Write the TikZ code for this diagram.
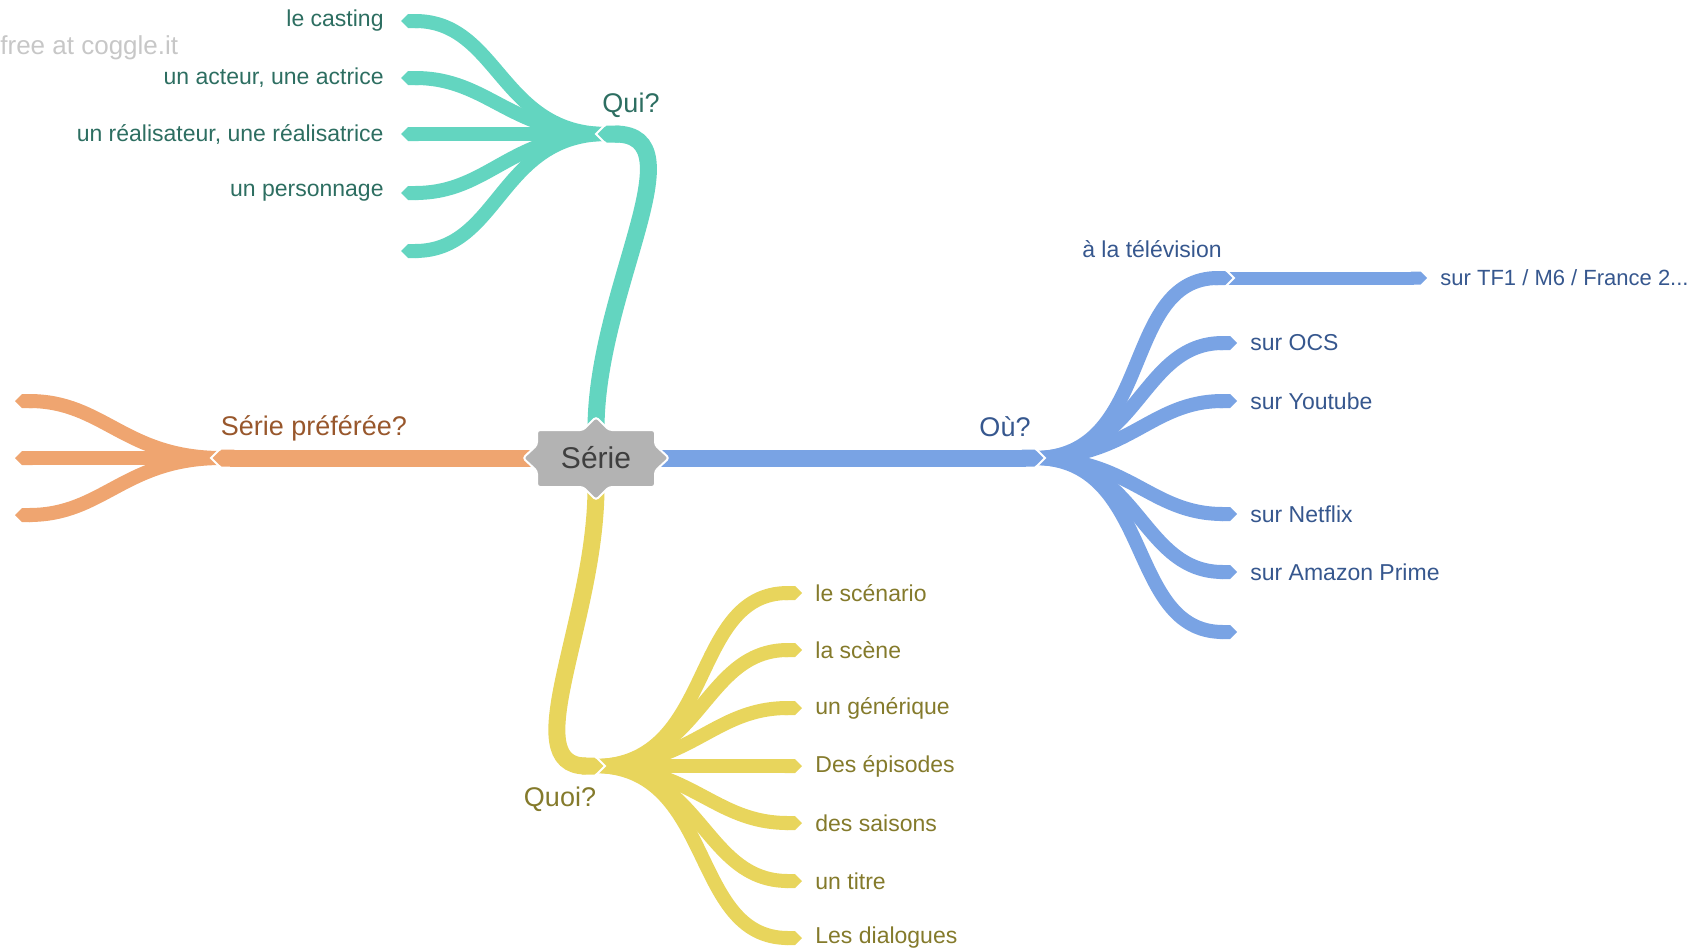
\documentclass[tikz,border=0pt]{standalone}
\usepackage{fontspec}
\setmainfont{Liberation Sans}
\usetikzlibrary{arrows.meta}
\definecolor{quiline}{HTML}{63D5C0}
\definecolor{quitext}{HTML}{2D6E61}
\definecolor{ouline}{HTML}{79A3E4}
\definecolor{outext}{HTML}{36578E}
\definecolor{prefline}{HTML}{EFA570}
\definecolor{preftext}{HTML}{98572C}
\definecolor{quoiline}{HTML}{E8D55C}
\definecolor{quoitext}{HTML}{847A2B}
\definecolor{boxgray}{HTML}{B3B3B3}
\definecolor{boxtext}{HTML}{3F3F3F}
\pgfdeclarelayer{back}
\pgfsetlayers{back,main}
\tikzset{trunk/.style={line width=8.5pt,-{Triangle Cap[]}},
	branch/.style={line width=7pt,-{Triangle Cap[]},shorten <=-4.5pt,looseness=1.1},
	leaf/.style={inner xsep=6.5pt,inner ysep=0pt,font=\fontsize{11.5}{13}\selectfont},
	head/.style={inner sep=0pt,font=\fontsize{13.5}{16}\selectfont},
	notch/.pic={\draw[white,line width=1pt] (-10,-12) -- (2,0) -- (-10,12);}}

\begin{document}
\begin{tikzpicture}[x=0.5pt,y=-0.5pt]
	\useasboundingbox (0,0) rectangle (1702,948);

	\filldraw[fill=boxgray,draw=white,line width=1pt,rounded corners=1.5pt] (537,430) -- (583,430) -- (596,417) -- (609,430) -- (655,430) -- (655,445) -- (669,458) -- (655,471) -- (655,487) -- (609,487) -- (596,500) -- (583,487) -- (537,487) -- (537,471) -- (523,458) -- (537,445) -- cycle;
	\node[text=boxtext,font=\fontsize{15}{18}\selectfont,minimum width=59pt,minimum height=28.5pt] (serie) at (596,458) {Série};
	\node[anchor=west,inner sep=0pt,text=black!22,font=\fontsize{13}{15}\selectfont] (coggle) at (0,48) {free at coggle.it};

	\node[head,text=quitext] (quilabel) at (631,105) {Qui?};
	\node[head,text=outext] (oulabel) at (1005,427) {Où?};
	\node[head,text=preftext] (preflabel) at (314,428) {Série préférée?};
	\node[head,text=quoitext] (quoilabel) at (560,799) {Quoi?};
	\node[leaf,text=outext] (telelabel) at (1152,249) {à la télévision};

	\node[leaf,text=quitext,anchor=east,inner xsep=8.5pt] (casting) at (401,21) {le casting};
	\node[leaf,text=quitext,anchor=east,inner xsep=8.5pt] (acteur) at (401,78) {un acteur, une actrice};
	\node[leaf,text=quitext,anchor=east,inner xsep=8.5pt] (realisateur) at (401,134) {un réalisateur, une réalisatrice};
	\node[leaf,text=quitext,anchor=east,inner xsep=8.5pt] (personnage) at (401,193) {un personnage};
	\coordinate (quivide) at (401,251);

	\node[leaf,text=outext,anchor=west,font=\fontsize{11}{13}\selectfont] (tf1) at (1427,278) {sur TF1 / M6 / France 2...};
	\node[leaf,text=outext,anchor=west] (ocs) at (1237,343) {sur OCS};
	\node[leaf,text=outext,anchor=west] (youtube) at (1237,401) {sur Youtube};
	\node[leaf,text=outext,anchor=west] (netflix) at (1237,514) {sur Netflix};
	\node[leaf,text=outext,anchor=west] (amazon) at (1237,572) {sur Amazon Prime};
	\coordinate (ouvide) at (1237,632);
	\coordinate (tele) at (1232,278);

	\node[leaf,text=quoitext,anchor=west] (scenario) at (802,593) {le scénario};
	\node[leaf,text=quoitext,anchor=west] (scene) at (802,650) {la scène};
	\node[leaf,text=quoitext,anchor=west] (generique) at (802,708) {un générique};
	\node[leaf,text=quoitext,anchor=west] (episodes) at (802,766) {Des épisodes};
	\node[leaf,text=quoitext,anchor=west] (saisons) at (802,823) {des saisons};
	\node[leaf,text=quoitext,anchor=west] (titre) at (802,881) {un titre};
	\node[leaf,text=quoitext,anchor=west] (dialogues) at (802,938) {Les dialogues};

	\coordinate (prefhaut) at (15,401);
	\coordinate (prefmilieu) at (15,458);
	\coordinate (prefbas) at (15,515);

	\coordinate (qui) at (598,134);
	\coordinate (ou) at (1043,458);
	\coordinate (pref) at (213,458);
	\coordinate (quoi) at (603,766);

	\begin{pgfonlayer}{back}
		\draw[quiline,branch] (qui) to[out=180,in=0] (casting.east);
		\draw[quiline,branch] (qui) to[out=180,in=0] (acteur.east);
		\draw[quiline,branch] (qui) -- (realisateur.east);
		\draw[quiline,branch] (qui) to[out=180,in=0] (personnage.east);
		\draw[quiline,branch] (qui) to[out=180,in=0] (quivide);

		\draw[ouline,branch,line width=6.5pt] (tele) -- (tf1.west);
		\draw[ouline,branch] (ou) to[out=0,in=180] (tele);
		\draw[ouline,branch] (ou) to[out=0,in=180] (ocs.west);
		\draw[ouline,branch] (ou) to[out=0,in=180] (youtube.west);
		\draw[ouline,branch] (ou) to[out=0,in=180] (netflix.west);
		\draw[ouline,branch] (ou) to[out=0,in=180] (amazon.west);
		\draw[ouline,branch] (ou) to[out=0,in=180] (ouvide);

		\draw[prefline,branch] (pref) to[out=180,in=0] (prefhaut);
		\draw[prefline,branch] (pref) -- (prefmilieu);
		\draw[prefline,branch] (pref) to[out=180,in=0] (prefbas);

		\draw[quoiline,branch] (quoi) to[out=0,in=180] (scenario.west);
		\draw[quoiline,branch] (quoi) to[out=0,in=180] (scene.west);
		\draw[quoiline,branch] (quoi) to[out=0,in=180] (generique.west);
		\draw[quoiline,branch] (quoi) -- (episodes.west);
		\draw[quoiline,branch] (quoi) to[out=0,in=180] (saisons.west);
		\draw[quoiline,branch] (quoi) to[out=0,in=180] (titre.west);
		\draw[quoiline,branch] (quoi) to[out=0,in=180] (dialogues.west);

		\draw[quiline,trunk] (serie.north) .. controls (596,290) and (700,134) .. (qui);
		\draw[ouline,trunk] (serie.east) -- (ou);
		\draw[prefline,trunk] (serie.west) -- (pref);
		\draw[quoiline,trunk] (serie.south) .. controls (596,620) and (515,766) .. (quoi);

		\pic[rotate=180] at (qui) {notch};
		\pic at (ou) {notch};
		\pic[rotate=180] at (pref) {notch};
		\pic at (quoi) {notch};
		\pic at (tele) {notch};
	\end{pgfonlayer}
\end{tikzpicture}
\end{document}
